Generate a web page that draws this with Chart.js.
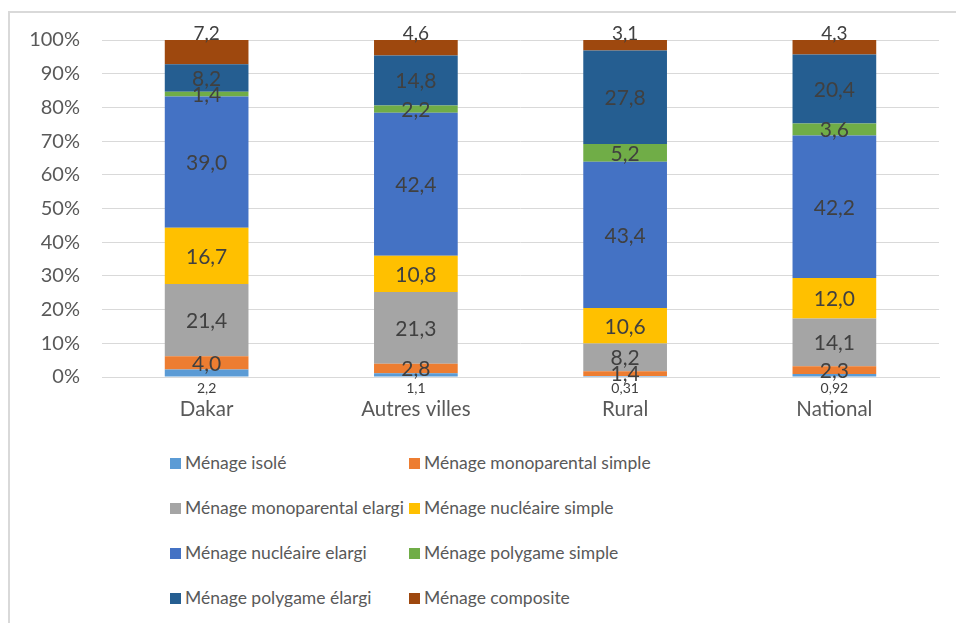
<!DOCTYPE html>
<html lang="fr">
<head>
<meta charset="utf-8">
<script src="https://cdn.jsdelivr.net/npm/chart.js@4.4.1/dist/chart.umd.min.js"></script>
<style>
  html, body { margin: 0; padding: 0; background: #fff; }
  #wrap { position: relative; width: 956px; height: 623px; overflow: hidden; }
  #frame { position: absolute; left: 8px; top: 11px; width: 980px; height: 640px;
           border-left: 2px solid #d9d9d9; border-top: 2px solid #d9d9d9; }
  #chart-box { position: absolute; left: 0; top: 0; width: 956px; height: 430px; }
  #legend { position: absolute; left: 0; top: 0; font-family: Lato, sans-serif;
            font-size: 17.5px; color: #595959; }
  .leg-item { position: absolute; white-space: nowrap; line-height: 20px; }
  .leg-sw { position: absolute; width: 11px; height: 11px; top: 5px; left: 0; }
  .leg-tx { position: absolute; left: 15px; top: 0; }
</style>
</head>
<body>
<div id="wrap">
  <div id="frame"></div>
  <div id="chart-box"><canvas id="chart-menages"></canvas></div>
  <div id="legend"></div>
</div>
<script>
// --- Données : structure des ménages par milieu (%) ---
const categories = ['Dakar', 'Autres villes', 'Rural', 'National'];

const seriesNames = [
  'Ménage isolé',
  'Ménage monoparental simple',
  'Ménage monoparental elargi',
  'Ménage nucléaire simple',
  'Ménage nucléaire elargi',
  'Ménage polygame simple',
  'Ménage polygame élargi',
  'Ménage composite'
];

const isole           = [2.2, 1.1, 0.31, 0.92];
const monoSimple      = [4.0, 2.8, 1.4, 2.3];
const monoElargi      = [21.4, 21.3, 8.2, 14.1];
const nucleaireSimple = [16.7, 10.8, 10.6, 12.0];
const nucleaireElargi = [39.0, 42.4, 43.4, 42.2];
const polySimple      = [1.4, 2.2, 5.2, 3.6];
const polyElargi      = [8.2, 14.8, 27.8, 20.4];
const composite       = [7.2, 4.6, 3.1, 4.3];

// nombre de décimales affichées
const decimals = [1, 1, 1, 1, 1, 1, 1, 1];
const decimalsIsole = [1, 1, 2, 2];

const yTicks = [0, 10, 20, 30, 40, 50, 60, 70, 80, 90, 100];

const colors = ['#5B9BD5', '#ED7D31', '#A5A5A5', '#FFC000', '#4472C4', '#70AD47', '#255E91', '#9E480E'];

const allSeries = [isole, monoSimple, monoElargi, nucleaireSimple, nucleaireElargi, polySimple, polyElargi, composite];

// total par colonne, pour ramener chaque barre à 100 %
const totals = categories.map((_, i) => allSeries.reduce((s, arr) => s + arr[i], 0));

const datasets = allSeries.map((arr, k) => ({
  label: seriesNames[k],
  data: arr.map((v, i) => v / totals[i] * 100),
  raw: arr,
  backgroundColor: colors[k],
  borderWidth: 0,
  barPercentage: 0.4,
  categoryPercentage: 1.0
}));

function frNum(v, d) {
  return v.toFixed(d).replace('.', ',');
}

// étiquettes de valeurs dessinées sur les segments
const valueLabels = {
  id: 'valueLabels',
  afterDatasetsDraw(chart) {
    const ctx = chart.ctx;
    ctx.save();
    ctx.textAlign = 'center';
    ctx.textBaseline = 'middle';
    ctx.fillStyle = '#404040';
    chart.data.datasets.forEach((ds, k) => {
      const meta = chart.getDatasetMeta(k);
      meta.data.forEach((bar, i) => {
        const v = ds.raw[i];
        if (k === 0) {
          ctx.font = '14px Lato, sans-serif';
          ctx.fillText(frNum(v, decimalsIsole[i]), bar.x, bar.base + 12);
        } else if (k === allSeries.length - 1) {
          ctx.font = '19px Lato, sans-serif';
          ctx.fillText(frNum(v, decimals[k]), bar.x, bar.y - 6);
        } else {
          ctx.font = '21px Lato, sans-serif';
          ctx.fillText(frNum(v, decimals[k]), bar.x, (bar.y + bar.base) / 2 + 1);
        }
      });
    });
    ctx.restore();
  }
};

const chart = new Chart(document.getElementById('chart-menages'), {
  type: 'bar',
  data: { labels: categories, datasets: datasets },
  options: {
    responsive: true,
    maintainAspectRatio: false,
    animation: false,
    layout: { padding: { top: 40, right: 17, left: 0, bottom: 0 } },
    plugins: {
      legend: { display: false },
      tooltip: { enabled: false }
    },
    scales: {
      x: {
        stacked: true,
        grid: { display: false, drawTicks: false },
        border: { color: '#d9d9d9', width: 1 },
        ticks: { color: '#595959', font: { family: 'Lato', size: 20.5 }, padding: 20 },
        afterFit(scale) { scale.height = 53; }
      },
      y: {
        stacked: true,
        min: 0,
        max: 100,
        afterBuildTicks(scale) { scale.ticks = yTicks.map(v => ({ value: v })); },
        grid: { color: '#d9d9d9', lineWidth: 1, drawTicks: false },
        border: { display: false },
        ticks: {
          color: '#595959',
          font: { family: 'Lato', size: 20 },
          padding: 22,
          callback: v => v + '%'
        },
        afterFit(scale) { scale.width = 102; }
      }
    }
  },
  plugins: [valueLabels]
});

// légende sur deux colonnes
const legend = document.getElementById('legend');
const colX = [170, 409];
const rowY = [453, 498, 543, 588];
seriesNames.forEach((name, k) => {
  const item = document.createElement('div');
  item.className = 'leg-item';
  item.style.left = colX[k % 2] + 'px';
  item.style.top = rowY[Math.floor(k / 2)] + 'px';
  item.innerHTML = '<span class="leg-sw" style="background:' + colors[k] + '"></span><span class="leg-tx">' + name + '</span>';
  legend.appendChild(item);
});
</script>
</body>
</html>
